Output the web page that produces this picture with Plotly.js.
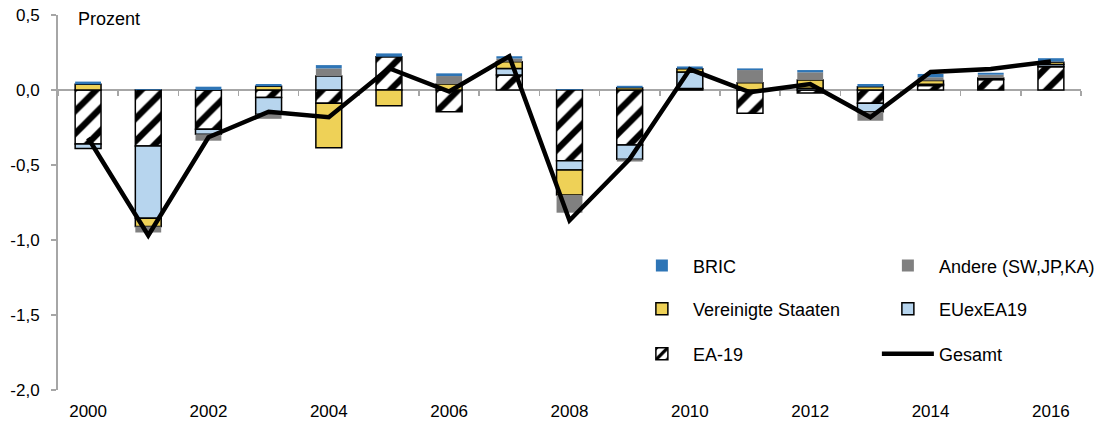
<!DOCTYPE html>
<html>
<head>
<meta charset="utf-8">
<script src="https://cdn.plot.ly/plotly-3.0.1.min.js"></script>
<style>html,body{margin:0;padding:0;background:#fff;}#chart{width:1110px;height:423px;}</style>
</head>
<body>
<div id="chart"></div>
<script>
const years = [2000,2001,2002,2003,2004,2005,2006,2007,2008,2009,2010,2011,2012,2013,2014,2015,2016];
const ea19   = [-0.36,-0.373,-0.262,-0.05,-0.089,0.222,-0.145,0.10,-0.471,-0.367,0.01,-0.155,-0.02,-0.089,0.03,0.07,0.155];
const euex   = [-0.03,-0.482,-0.033,-0.111,0.093,0,0,0.044,-0.062,-0.095,0.11,0,0.012,-0.056,0.008,0,0.015];
const usa    = [0.038,-0.055,0,0.025,-0.296,-0.105,0.04,0.044,-0.167,0.015,0.022,0.049,0.055,0.022,0.025,0.01,0.015];
const andere = [0,-0.04,-0.043,-0.031,0.051,0,0.053,0.022,-0.118,-0.015,0,0.084,0.051,-0.06,0.022,0.022,0.005];
const bric   = [0.018,0.005,0.022,0.015,0.022,0.022,0.018,0.015,0.005,0.013,0.015,0.011,0.015,0.018,0.022,0.013,0.022];
const gesamt = [-0.32,-0.97,-0.315,-0.145,-0.182,0.145,-0.01,0.225,-0.87,-0.46,0.138,-0.015,0.04,-0.182,0.12,0.14,0.19];

const yTickVals = [-2,-1.5,-1,-0.5,0,0.5];
const yTickText = ["-2,0","-1,5","-1,0","-0,5","0,0","0,5"];
const xLabelVals = [2000,2002,2004,2006,2008,2010,2012,2014,2016];
const xBoundaryVals = years.map(y => y - 0.5).concat([years[years.length-1] + 0.5]);

const FONT = "Liberation Sans, Arial, sans-serif";
const outline = {color:'#000', width:1.5};

const traces = [
  {type:'bar', name:'EA-19', x:years, y:ea19, legend:'legend3', legendrank:1,
   marker:{color:'#fff', line:outline, pattern:{shape:'/', fgcolor:'#000', bgcolor:'#fff', size:16, solidity:0.4}}},
  {type:'bar', name:'EUexEA19', x:years, y:euex, legend:'legend2', legendrank:2,
   marker:{color:'#B7D5EE', line:outline}},
  {type:'bar', name:'Vereinigte Staaten', x:years, y:usa, legend:'legend2', legendrank:1,
   marker:{color:'#EED157', line:outline}},
  {type:'bar', name:'Andere (SW,JP,KA)', x:years, y:andere, legend:'legend', legendrank:2,
   marker:{color:'#808080', line:{width:0}}},
  {type:'bar', name:'BRIC', x:years, y:bric, legend:'legend', legendrank:1,
   marker:{color:'#2E75B6', line:{width:0}}},
  {type:'scatter', mode:'lines', name:'Gesamt', x:years, y:gesamt, xaxis:'x2', yaxis:'y', legend:'legend3', legendrank:2,
   line:{color:'#000', width:4.5}}
];

const legendBase = {orientation:'h', xanchor:'left', yanchor:'middle', x:0.56,
  entrywidth:179, entrywidthmode:'pixels', itemwidth:52, bgcolor:'rgba(0,0,0,0)',
  font:{family:FONT, size:18, color:'#000'}, traceorder:'normal'};

const layout = {
  width:1110, height:423,
  margin:{l:58, r:29, t:15, b:33, pad:0, autoexpand:false},
  paper_bgcolor:'#fff', plot_bgcolor:'#fff',
  font:{family:FONT, size:17, color:'#000'},
  barmode:'relative', bargap:0.57,
  showlegend:true,
  xaxis:{range:[1999.5,2016.5], anchor:'free', position:0.8, showline:true, linecolor:'#A6A6A6', linewidth:2,
    ticks:'outside', ticklen:5, tickwidth:1.5, tickcolor:'#A6A6A6', tickmode:'array', tickvals:xBoundaryVals,
    showticklabels:false, showgrid:false, zeroline:false, layer:'below traces', fixedrange:true},
  xaxis2:{range:[1999.5,2016.5], overlaying:'x', anchor:'y', side:'bottom', showline:false, ticks:'',
    tickmode:'array', tickvals:xLabelVals, ticktext:xLabelVals.map(String), showgrid:false, zeroline:false,
    ticklabelstandoff:9, tickfont:{family:FONT, size:17, color:'#000'}},
  yaxis:{range:[-2,0.5], tickmode:'array', tickvals:yTickVals, ticktext:yTickText, showline:true,
    linecolor:'#A6A6A6', linewidth:2, ticks:'outside', ticklen:5, tickwidth:1.5, tickcolor:'#A6A6A6',
    showgrid:false, zeroline:false, ticklabelstandoff:8, tickfont:{family:FONT, size:17, color:'#000'}},
  legend:Object.assign({}, legendBase, {y:0.331}),
  legend2:Object.assign({}, legendBase, {y:0.216}),
  legend3:Object.assign({}, legendBase, {y:0.096}),
  annotations:[{text:'Prozent', xref:'paper', yref:'paper', x:0.018, y:0.989, xanchor:'left', yanchor:'middle',
    showarrow:false, font:{family:FONT, size:18, color:'#000'}}]
};

Plotly.newPlot('chart', traces, layout, {staticPlot:true, displayModeBar:false});
</script>
</body>
</html>
